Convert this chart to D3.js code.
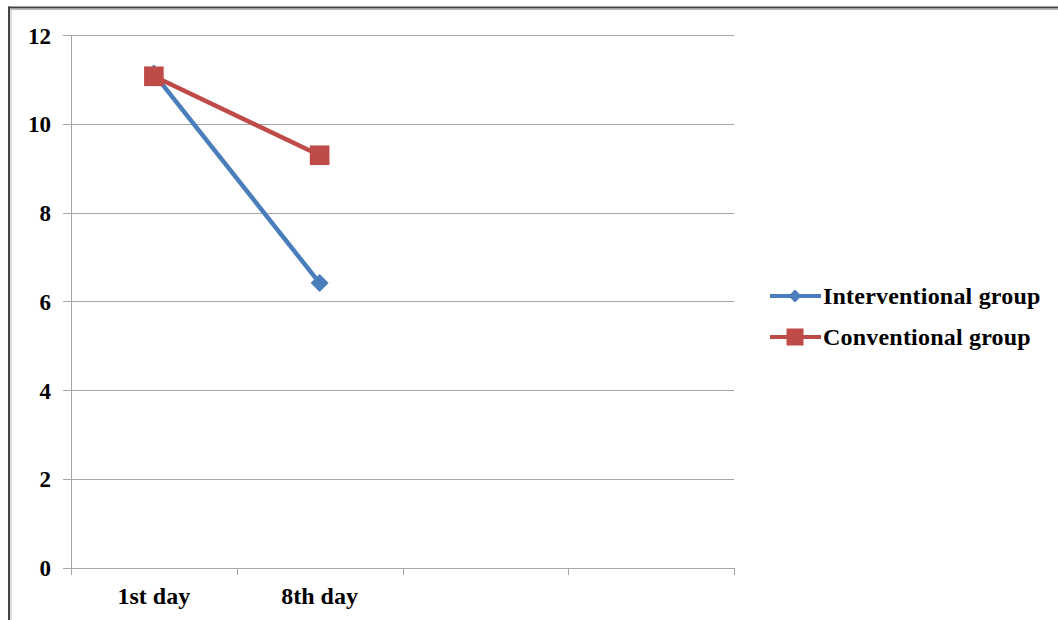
<!DOCTYPE html>
<html><head><meta charset="utf-8">
<script src="https://cdn.jsdelivr.net/npm/d3@7"></script>
<style>
html,body{margin:0;padding:0;background:#fff;}
svg{display:block;}
text{font-family:"Liberation Serif","Times New Roman",serif;font-weight:bold;fill:#000;}
</style></head>
<body>
<script>
const categories = ["1st day", "8th day", "", ""];
const interventional = [11.13, 6.41];
const conventional = [11.07, 9.29];
const yTicks = [0, 2, 4, 6, 8, 10, 12];
const seriesNames = ["Interventional group", "Conventional group"];

(function () {
const W = 1058, H = 620;
const svg = d3.select("body").append("svg").attr("width", W).attr("height", H);

// frame
svg.append("line").attr("x1", 8).attr("x2", W).attr("y1", 7.5).attr("y2", 7.5).attr("stroke", "#444").attr("stroke-width", 2);
svg.append("line").attr("x1", 8).attr("x2", W).attr("y1", 9.5).attr("y2", 9.5).attr("stroke", "#bbb").attr("stroke-width", 1);
svg.append("line").attr("x1", 9).attr("x2", 9).attr("y1", 6.5).attr("y2", H).attr("stroke", "#444").attr("stroke-width", 2);
svg.append("line").attr("x1", 11).attr("x2", 11).attr("y1", 9).attr("y2", H).attr("stroke", "#bbb").attr("stroke-width", 1);

const pLeft = 71, pRight = 734, pTop = 35, pBottom = 567.5;
const x = d3.scaleBand().domain(categories.map((d, i) => i)).range([pLeft, pRight]).padding(0);
const y = d3.scaleLinear().domain([0, 12]).range([pBottom, pTop]);
const cx = i => x(i) + x.bandwidth() / 2;

// gridlines
svg.append("g").selectAll("line").data(yTicks).join("line")
  .attr("x1", pLeft - 8).attr("x2", pRight)
  .attr("y1", d => Math.round(y(d)) + 0.5).attr("y2", d => Math.round(y(d)) + 0.5)
  .attr("stroke", "#a6a6a6").attr("stroke-width", 1);
// y axis line
svg.append("line").attr("x1", pLeft + 0.5).attr("x2", pLeft + 0.5).attr("y1", pTop).attr("y2", pBottom + 6)
  .attr("stroke", "#a6a6a6");
// x ticks
const xt = d3.range(categories.length + 1).map(i => pLeft + i * x.bandwidth());
svg.append("g").selectAll("line").data(xt).join("line")
  .attr("x1", d => Math.round(d) + 0.5).attr("x2", d => Math.round(d) + 0.5)
  .attr("y1", Math.round(pBottom)).attr("y2", Math.round(pBottom) + 7)
  .attr("stroke", "#a6a6a6");

// y labels
svg.append("g").selectAll("text").data(yTicks).join("text")
  .attr("x", 51).attr("y", d => y(d) + 8.5).attr("text-anchor", "end")
  .style("font-size", "23px").text(d => d);
// x labels
svg.append("g").selectAll("text").data(categories).join("text")
  .attr("x", (d, i) => cx(i)).attr("y", 604).attr("text-anchor", "middle")
  .style("font-size", "24px").text(d => d);

const line = d3.line().x((d, i) => cx(i)).y(d => y(d));
const blue = "#4a7ebb", red = "#be4b48";

function diamond(g, px, py, s) {
  g.append("path").attr("d", `M${px},${py - s}L${px + s},${py}L${px},${py + s}L${px - s},${py}Z`).attr("fill", blue);
}
function square(g, px, py, s) {
  g.append("rect").attr("x", px - s).attr("y", py - s).attr("width", 2 * s).attr("height", 2 * s).attr("fill", red);
}

const gI = svg.append("g");
gI.append("path").datum(interventional).attr("d", line).attr("fill", "none").attr("stroke", blue).attr("stroke-width", 4.5);
interventional.forEach((v, i) => diamond(gI, cx(i), y(v), 9));

const gC = svg.append("g");
gC.append("path").datum(conventional).attr("d", line).attr("fill", "none").attr("stroke", red).attr("stroke-width", 4.5);
conventional.forEach((v, i) => square(gC, cx(i), y(v), 9.8));

// legend
const lg = svg.append("g");
const ly = [296, 337];
lg.append("line").attr("x1", 770).attr("x2", 821).attr("y1", ly[0]).attr("y2", ly[0]).attr("stroke", blue).attr("stroke-width", 4);
diamond(lg, 795, ly[0], 6.5);
lg.append("line").attr("x1", 770).attr("x2", 821).attr("y1", ly[1]).attr("y2", ly[1]).attr("stroke", red).attr("stroke-width", 4);
square(lg, 795, ly[1], 8.5);
lg.selectAll("text").data(seriesNames).join("text")
  .attr("x", 823).attr("y", (d, i) => ly[i] + 8)
  .style("font-size", "24px").style("letter-spacing", "0.2px").text(d => d);
})();
</script>
</body></html>
